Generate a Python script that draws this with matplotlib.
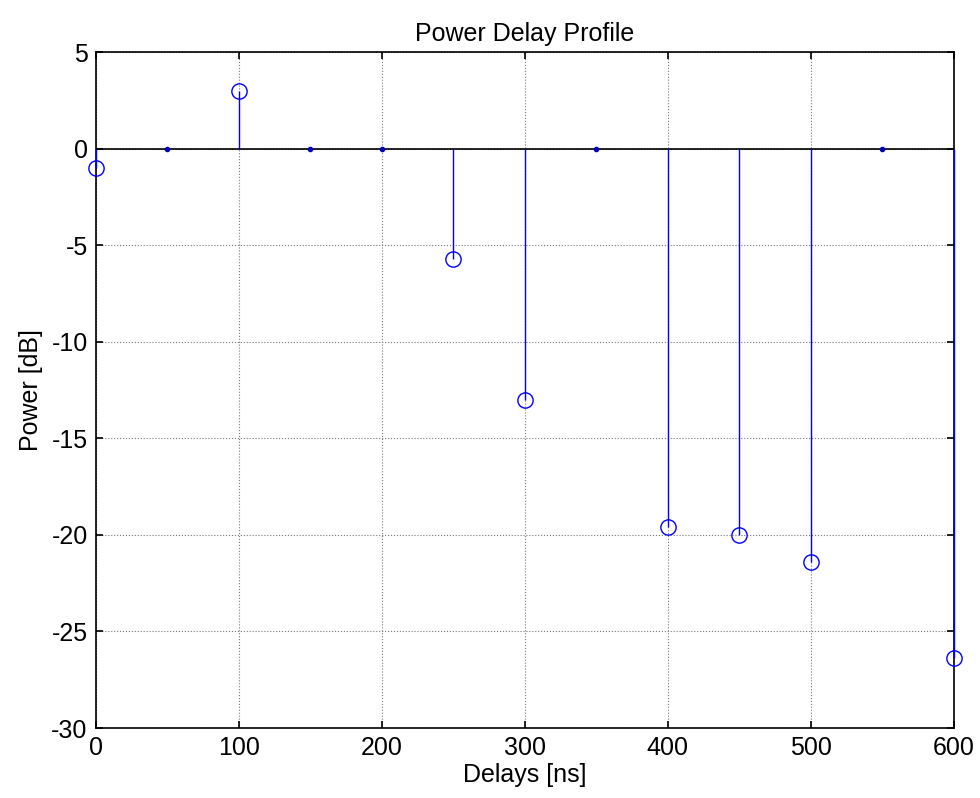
import matplotlib
matplotlib.use("Agg")
import matplotlib.pyplot as plt

# stem values (delay in ns, power in dB)
delays = [0, 100, 250, 300, 400, 450, 500, 600]
power_db = [-1.0, 3.0, -5.7, -13.0, -19.6, -20.0, -21.4, -26.4]
# taps drawn as plain dots on the zero line
zero_delays = [50, 150, 200, 350, 550]
zero_power = [0, 0, 0, 0, 0]

xticks = [0, 100, 200, 300, 400, 500, 600]
yticks = [5, 0, -5, -10, -15, -20, -25, -30]

plt.rcParams["font.family"] = ["Liberation Sans", "DejaVu Sans"]
plt.rcParams["axes.unicode_minus"] = False
FS = 18

fig = plt.figure(figsize=(9.8, 7.98), dpi=100)
ax = fig.add_axes([0.098, 0.0877, 0.875, 0.847])

markerline, stemlines, baseline = ax.stem(delays, power_db, linefmt="b-", markerfmt="o", basefmt="k-")
markerline.set_markerfacecolor("none")
markerline.set_markeredgecolor("blue")
markerline.set_markersize(11)
markerline.set_markeredgewidth(1.0)
markerline.set_clip_on(False)
markerline.set_zorder(5)
stemlines.set_linewidth(1.0)
stemlines.set_clip_on(False)
stemlines.set_zorder(4)
baseline.set_linewidth(1.2)
baseline.set_xdata([0, 600])
baseline.set_zorder(3)

ax.plot(zero_delays, zero_power, ".", color="#0000c0", markersize=6, zorder=4)

ax.set_xlim(0, 600)
ax.set_ylim(-30, 5)
ax.set_xticks(xticks)
ax.set_yticks(yticks)
ax.grid(True, linestyle=":", color="#777777", linewidth=0.8)
ax.set_axisbelow(True)
ax.tick_params(direction="in", top=True, right=True, length=5, width=1.2, labelsize=FS, pad=6)
for s in ax.spines.values():
    s.set_linewidth(1.2)

ax.set_title("Power Delay Profile", fontsize=FS, pad=8)
ax.set_xlabel("Delays [ns]", fontsize=FS, labelpad=2)
ax.set_ylabel("Power [dB]", fontsize=FS, labelpad=6)

fig.savefig("out.png", dpi=100)
